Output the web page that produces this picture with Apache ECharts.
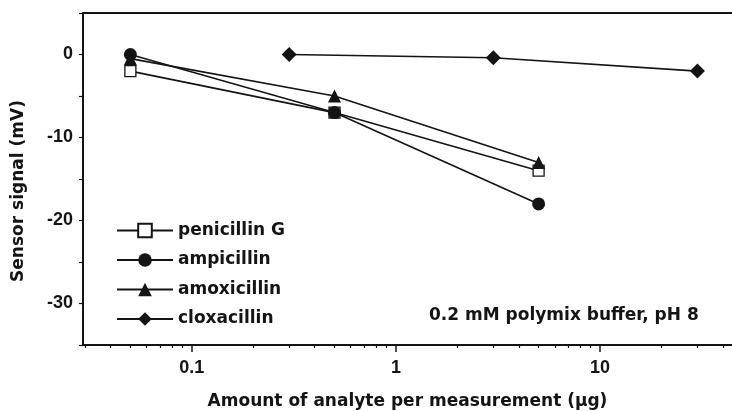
<!DOCTYPE html>
<html>
<head>
<meta charset="utf-8">
<script src="https://cdn.jsdelivr.net/npm/echarts@6/dist/echarts.min.js"></script>
<style>
  html, body { margin: 0; padding: 0; background: #fff; }
  #chart { width: 732px; height: 411px; }
</style>
</head>
<body>
<div id="chart"></div>
<script>
// amount of analyte (ug) vs sensor signal (mV)
var penicillinG = [[0.05, -2], [0.5, -7], [5, -14]];
var ampicillin = [[0.05, 0], [0.5, -7], [5, -18]];
var amoxicillin = [[0.05, -0.5], [0.5, -5], [5, -13]];
var cloxacillin = [[0.3, 0], [3, -0.4], [30, -2]];

var xLabels = [0.1, 1, 10];
var xMinor = [0.03, 0.04, 0.05, 0.06, 0.07, 0.08, 0.09,
  0.2, 0.3, 0.4, 0.5, 0.6, 0.7, 0.8, 0.9,
  2, 3, 4, 5, 6, 7, 8, 9, 20, 30, 40];

var ink = "#141414";
var numFont = "Liberation Sans";
var txtFont = "DejaVu Sans";

function lineSeries(name, data, symbol, size, fill, z) {
  return {
    name: name,
    type: "line",
    data: data,
    symbol: symbol,
    symbolSize: size,
    z: z,
    lineStyle: { color: ink, width: 1.6 },
    itemStyle: { color: fill, borderColor: ink, borderWidth: fill === "#fff" ? 1.3 : 0 },
    emphasis: { disabled: true }
  };
}

var myChart = echarts.init(document.getElementById("chart"));
myChart.setOption({
  animation: false,
  title: {
    text: "0.2 mM polymix buffer, pH 8",
    left: 424,
    top: 302,
    textStyle: { fontFamily: txtFont, fontWeight: "bold", fontSize: 17, color: ink }
  },
  legend: {
    orient: "vertical",
    left: 116,
    top: 222,
    padding: 0,
    itemWidth: 56,
    itemHeight: 17,
    itemGap: 12.5,
    textStyle: { fontFamily: txtFont, fontWeight: "bold", fontSize: 17, color: ink },
    data: ["penicillin G", "ampicillin", "amoxicillin", "cloxacillin"]
  },
  grid: { left: 83, right: 0, top: 13, bottom: 66, outerBoundsMode: "none", containLabel: false },
  xAxis: [
    {
      type: "log",
      min: 0.0293,
      max: 44.3,
      name: "Amount of analyte per measurement (\u03bcg)",
      nameLocation: "middle",
      nameGap: 48,
      nameTextStyle: { fontFamily: txtFont, fontWeight: "bold", fontSize: 17, color: ink },
      axisLine: { onZero: false, lineStyle: { color: ink, width: 2 } },
      axisTick: { length: 7, lineStyle: { color: ink, width: 1.5 }, customValues: xLabels },
      axisLabel: {
        customValues: xLabels,
        margin: 14,
        fontFamily: numFont, fontWeight: "bold", fontSize: 18, color: ink,
        formatter: function (v) { return String(v); }
      },
      splitLine: { show: false }
    },
    {
      type: "log",
      min: 0.0293,
      max: 44.3,
      position: "bottom",
      axisLine: { show: false, onZero: false },
      axisTick: { length: 3, lineStyle: { color: ink, width: 1.2 }, customValues: xMinor },
      axisLabel: { show: false },
      splitLine: { show: false }
    },
    {
      type: "log",
      min: 0.0293,
      max: 44.3,
      position: "top",
      axisLine: { onZero: false, lineStyle: { color: ink, width: 2 } },
      axisTick: { show: false },
      axisLabel: { show: false },
      splitLine: { show: false }
    }
  ],
  yAxis: {
    type: "value",
    min: -35,
    max: 5,
    interval: 5,
    name: "Sensor signal (mV)",
    nameLocation: "middle",
    nameGap: 56,
    nameTextStyle: { fontFamily: txtFont, fontWeight: "bold", fontSize: 17, color: ink, padding: [0, 24, 0, 0] },
    axisLine: { show: true, onZero: false, lineStyle: { color: ink, width: 2 } },
    axisTick: { show: true, length: 4, lineStyle: { color: ink, width: 1.2 } },
    axisLabel: {
      margin: 10,
      fontFamily: numFont, fontWeight: "bold", fontSize: 18, color: ink,
      formatter: function (v) { return v % 10 === 0 ? String(v) : ""; }
    },
    splitLine: { show: false }
  },
  series: [
    lineSeries("penicillin G", penicillinG, "rect", 11, "#fff", 2),
    lineSeries("ampicillin", ampicillin, "circle", 13, ink, 4),
    lineSeries("amoxicillin", amoxicillin, "triangle", 13, ink, 3),
    lineSeries("cloxacillin", cloxacillin, "diamond", 15, ink, 2)
  ]
});
</script>
</body>
</html>
